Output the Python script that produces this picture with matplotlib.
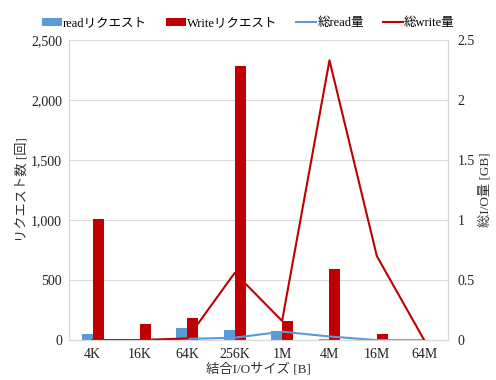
import numpy as np
import matplotlib
matplotlib.use("Agg")
import matplotlib.pyplot as plt
from matplotlib.ticker import FuncFormatter

plt.rcParams['font.family'] = ['Liberation Serif', 'Noto Sans CJK JP']

sizes = ['4K', '16K', '64K', '256K', '1M', '4M', '16M', '64M']
read_req = [50, 10, 102, 80, 75, 5, 0, 0]
write_req = [1010, 130, 183, 2280, 160, 595, 47, 0]
read_total = [0.0, 0.0, 0.01, 0.02, 0.07, 0.03, 0.0, 0.0]
write_total = [0.0, 0.0, 0.014, 0.56, 0.16, 2.33, 0.70, 0.0]

blue = '#5B9BD5'
red = '#C00000'
gridc = '#D9D9D9'

fig = plt.figure(figsize=(4.96, 3.8), dpi=100)
ax = fig.add_axes([0.139, 0.105, 0.764, 0.79])
ax2 = ax.twinx()

x = np.arange(len(sizes))
w = 0.23
b1 = ax.bar(x - w / 2, read_req, w, color=blue, label='readリクエスト', zorder=2)
b2 = ax.bar(x + w / 2, write_req, w, color=red, label='Writeリクエスト', zorder=2)
l1, = ax2.plot(x, read_total, color=blue, lw=1.5, label='総read量')
l2, = ax2.plot(x, write_total, color=red, lw=1.5, label='総write量')

ax.set_xlim(-0.5, len(sizes) - 0.5)
ax.set_ylim(0, 2500)
ax.set_yticks(np.arange(0, 2501, 500))
ax.yaxis.set_major_formatter(FuncFormatter(lambda v, p: f'{int(v):,}'))
ax2.set_ylim(0, 2.5)
ax2.set_yticks([0, 0.5, 1, 1.5, 2, 2.5])
ax2.set_yticklabels(['0', '0.5', '1', '1.5', '2', '2.5'])
ax.set_xticks(x)
ax.set_xticklabels(sizes)

ax.grid(axis='y', color=gridc, lw=0.8, zorder=0)
ax.set_axisbelow(True)
for a in (ax, ax2):
    for s in a.spines.values():
        s.set_color(gridc)
    a.tick_params(length=0, labelsize=10, colors='#222222')
ax.tick_params(axis='x', pad=6)
ax.tick_params(axis='y', pad=5)
ax2.tick_params(axis='y', pad=7)
ax.spines['top'].set_visible(False)
ax2.spines['top'].set_visible(False)
ax.spines['bottom'].set_color('#BFBFBF')

ax.set_ylabel('リクエスト数 [回]', fontsize=9.5, color='#333333', labelpad=2)
ax2.set_ylabel('総I/O量 [GB]', fontsize=9.5, color='#333333', labelpad=3)
ax.set_xlabel('結合I/Oサイズ [B]', fontsize=9.5, color='#333333', labelpad=1)

fig.legend(handles=[b1, b2, l1, l2], loc='upper center', bbox_to_anchor=(0.5, 0.985),
           ncol=4, frameon=False, fontsize=9, handlelength=1.6, handleheight=0.6,
           handletextpad=0.1, columnspacing=1.5)

fig.savefig('out.png', dpi=100)
